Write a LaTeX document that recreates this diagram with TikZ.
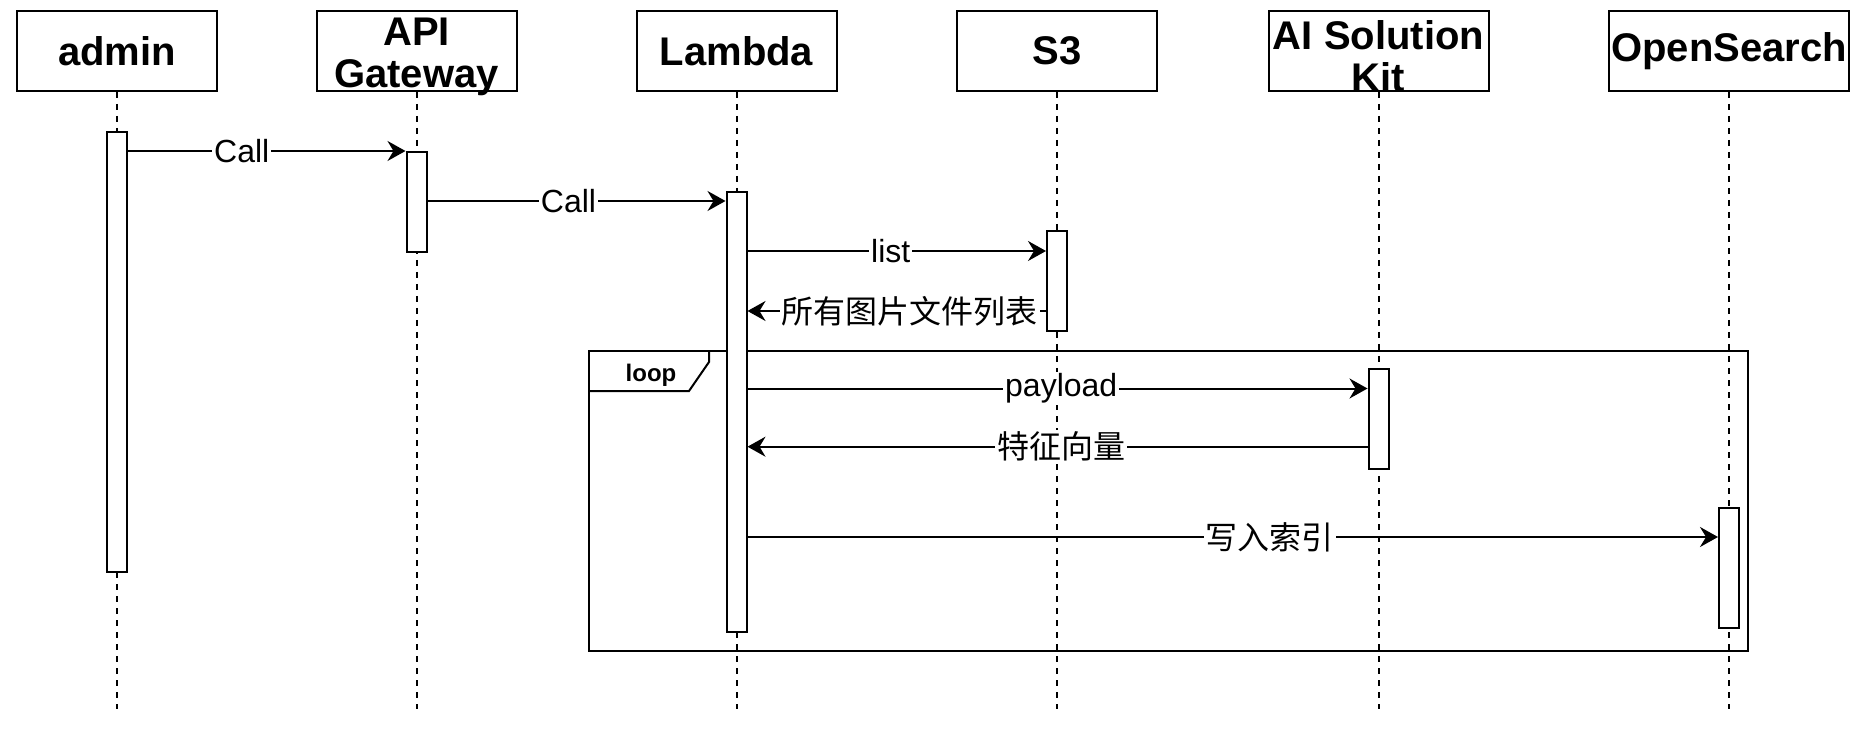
\documentclass[tikz,border=0pt]{standalone}
\usepackage{fontspec}
\setmainfont{Liberation Sans}
\newfontfamily\cjk{Noto Sans CJK SC}
\usetikzlibrary{arrows.meta}

\begin{document}
\begin{tikzpicture}[x=0.5pt,y=-0.5pt,line width=1pt,
  headtext/.style={align=center,font=\fontsize{20}{21}\selectfont\bfseries},
  headbox/.style={draw,fill=white,inner sep=0,minimum width=100pt,minimum height=40pt,headtext},
  actbar/.style={draw,fill=white,inner sep=0,minimum width=10pt,anchor=north},
  lifeline/.style={dash pattern=on 3pt off 3pt},
  msgarrow/.style={-{Stealth[length=9pt,width=10pt,inset=3pt]}},
  msglabel/.style={fill=white,inner sep=1pt,font=\fontsize{16}{18}\selectfont}]
\useasboundingbox(0,0) rectangle (1872,732);
% participants
\node[headbox] (admin) at (117,51) {admin};
\node[headbox,label={[headtext,yshift=-2.75pt]center:API\\Gateway}] (gw) at (416.5,51) {};
\node[headbox] (lambda) at (736.5,51) {Lambda};
\node[headbox] (s3) at (1057,51) {S3};
\node[headbox,minimum width=110pt,label={[headtext,yshift=-2.75pt]center:AI Solution\\Kit}] (aisk) at (1378.5,51) {};
\node[headbox,minimum width=120pt] (os) at (1729,51) {OpenSearch};
% lifelines
\draw[lifeline](admin.south)--(admin.south |- 0,709);
\draw[lifeline](gw.south)--(gw.south |- 0,709);
\draw[lifeline](lambda.south)--(lambda.south |- 0,709);
\draw[lifeline](s3.south)--(s3.south |- 0,709);
\draw[lifeline](aisk.south)--(aisk.south |- 0,709);
\draw[lifeline](os.south)--(os.south |- 0,709);
% loop frame
\draw(589,351) rectangle (1748,651);
\draw(589,391)--(689,391)--(709,362)--(709,351);
\node[font=\fontsize{12}{14}\selectfont\bfseries] (looplbl) at (651,375) {loop};
% activations
\node[actbar,minimum height=220pt] (adminbar) at (admin.south |- 0,131) {};
\node[actbar,minimum height=50pt] (gwbar) at (gw.south |- 0,151) {};
\node[actbar,minimum height=220pt] (lambdabar) at (lambda.south |- 0,191) {};
\node[actbar,minimum height=50pt] (s3bar) at (s3.south |- 0,230.5) {};
\node[actbar,minimum height=50pt] (aibar) at (aisk.south |- 0,368) {};
\node[actbar,minimum height=60pt] (osbar) at (os.south |- 0,507) {};
% messages
\draw[msgarrow](adminbar.east |- gwbar.north)--(gwbar.west |- gwbar.north) node[msglabel,pos=0.41]{Call};
\draw[msgarrow](gwbar.east |- 0,201)--(lambdabar.west |- 0,201) node[msglabel,pos=0.473]{Call};
\draw[msgarrow](lambdabar.east |- 0,251)--(s3bar.west |- 0,251) node[msglabel,pos=0.48]{list};
\draw[msgarrow](s3bar.west |- 0,311)--(lambdabar.east |- 0,311) node[msglabel,pos=0.457]{\cjk 所有图片文件列表};
\draw[msgarrow](lambdabar.east |- 0,388.5)--(aibar.west |- 0,388.5) node[msglabel,pos=0.506]{payload};
\draw[msgarrow](aibar.west |- 0,446.7)--(lambdabar.east |- 0,446.7) node[msglabel,pos=0.494]{\cjk 特征向量};
\draw[msgarrow](lambdabar.east |- 0,537)--(osbar.west |- 0,537) node[msglabel,pos=0.538]{\cjk 写入索引};
\end{tikzpicture}
\end{document}
